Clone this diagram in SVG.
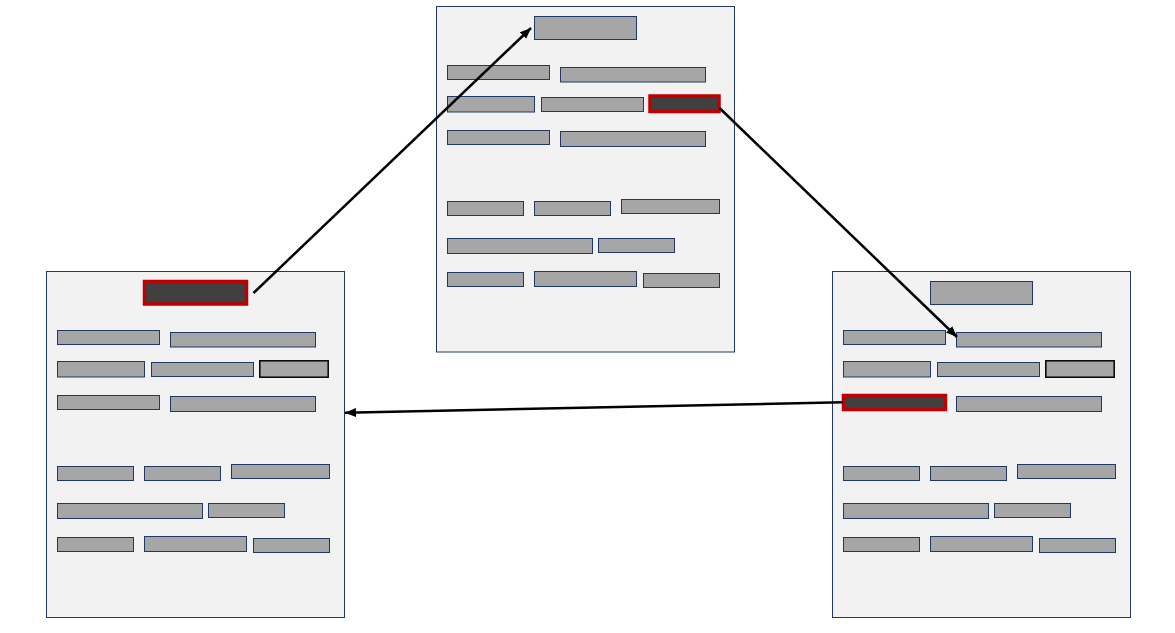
<svg xmlns="http://www.w3.org/2000/svg" width="1175" height="633" viewBox="0 0 1175 633">
<style>
.panel{fill:#F2F2F2;stroke:#1F3864;stroke-width:1}
.f{fill:#A6A6A6;stroke:#1F3864;stroke-width:1}
.fb{fill:#A6A6A6;stroke:#000000;stroke-width:1.5}
.hl{fill:#404040;stroke:#C00000;stroke-width:3.5}
.conn{stroke:#000000;stroke-width:2.5;fill:none}
</style>
<defs>
<marker id="ah" markerUnits="userSpaceOnUse" markerWidth="13" markerHeight="10" refX="11" refY="4.5" orient="auto">
<path d="M0,0 L11,4.5 L0,9 Z" fill="#000000"/>
</marker>
<g id="rows">
<rect class="f" x="447.5" y="65.5" width="102" height="14"/>
<rect class="f" x="560.5" y="67.5" width="145" height="14.5"/>
<rect class="f" x="447.5" y="96.5" width="87" height="15.5"/>
<rect class="f" x="541.5" y="97.5" width="102" height="14"/>
<rect class="f" x="560.5" y="131.5" width="145" height="15"/>
<rect class="f" x="447.5" y="201.5" width="76" height="14"/>
<rect class="f" x="534.5" y="201.5" width="76" height="14"/>
<rect class="f" x="621.5" y="199.5" width="98" height="14"/>
<rect class="f" x="447.5" y="238.5" width="145" height="15"/>
<rect class="f" x="598.5" y="238.5" width="76" height="14"/>
<rect class="f" x="447.5" y="272.5" width="76" height="14"/>
<rect class="f" x="534.5" y="271.5" width="102" height="15"/>
<rect class="f" x="643.5" y="273.5" width="76" height="14"/>
</g>
</defs>
<g id="panel-center">
<rect class="panel" x="436.5" y="6.5" width="298" height="345.5"/>
<rect class="f" x="534.5" y="16.5" width="102" height="23"/>
<use href="#rows"/>
<rect class="f" x="447.5" y="130.5" width="102" height="14"/>
<rect class="hl" x="650" y="96" width="69" height="15.5"/>
</g>
<g id="panel-left" transform="translate(-390,265)">
<rect class="panel" x="436.5" y="6.5" width="298" height="346"/>
<rect class="hl" x="534.5" y="16.5" width="102" height="22.5"/>
<use href="#rows"/>
<rect class="f" x="447.5" y="130.5" width="102" height="14"/>
<rect class="fb" x="649.8" y="95.8" width="68.4" height="16.4"/>
</g>
<g id="panel-right" transform="translate(396,265)">
<rect class="panel" x="436.5" y="6.5" width="298" height="346"/>
<rect class="f" x="534.5" y="16.5" width="102" height="23"/>
<use href="#rows"/>
<rect class="hl" x="447.5" y="130.5" width="102" height="14"/>
<rect class="fb" x="649.8" y="95.8" width="68.4" height="16.4"/>
</g>
<g id="connectors">
<line class="conn" x1="253.5" y1="293" x2="531" y2="28" marker-end="url(#ah)"/>
<line class="conn" x1="719.5" y1="108" x2="957" y2="337" marker-end="url(#ah)"/>
<line class="conn" x1="843" y1="402.3" x2="345" y2="412.8" marker-end="url(#ah)"/>
</g>
</svg>
